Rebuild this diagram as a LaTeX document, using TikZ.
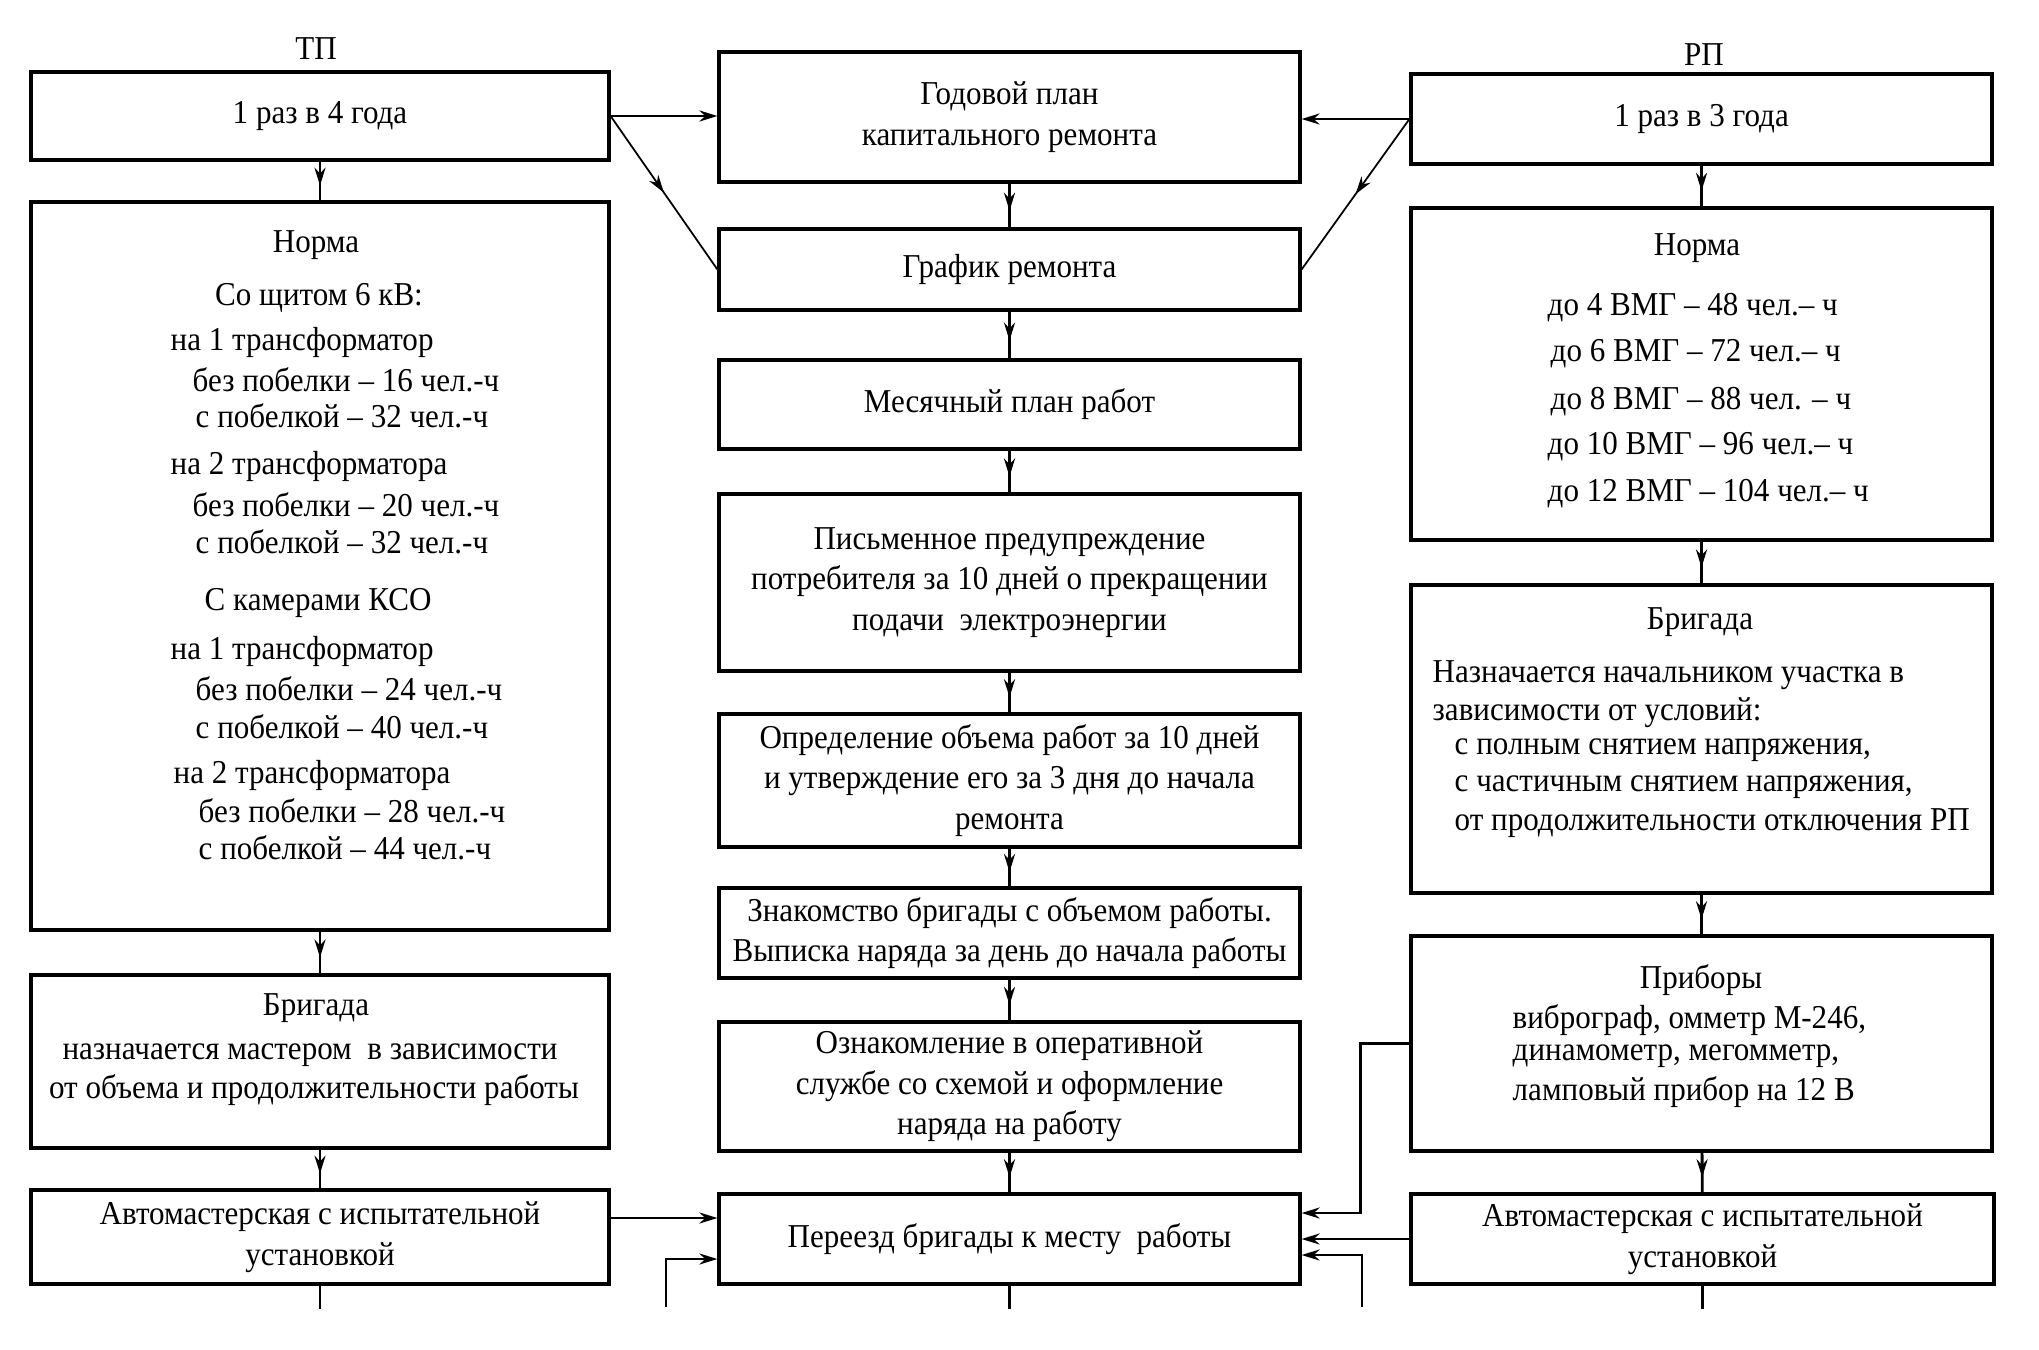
\documentclass[tikz,border=0pt]{standalone}
\usepackage{fontspec}
\setmainfont[FakeStretch=0.93]{Liberation Serif}
\usetikzlibrary{arrows.meta,decorations.markings,calc}
\newcommand\dgfont{\fontsize{9.5}{11.5}\selectfont}
\begin{document}
\begin{tikzpicture}[x=0.1mm,y=-0.1mm,
  box/.style={draw,line width=0.9pt,rectangle,inner sep=0pt,align=center,font=\dgfont},
  txt/.style={inner sep=0pt,font=\dgfont},
  txl/.style={inner sep=0pt,font=\dgfont,anchor=west},
  conn/.style={line width=0.8pt},
  thinconn/.style={line width=0.5pt},
  tip/.style={-{Stealth[length=1.8mm,width=1.1mm]}},
  midarr/.style={decoration={markings,mark=at position #1 with {\arrow{Stealth[length=1.8mm,width=1.1mm]}}},postaction={decorate}},
  midarr/.default=0.62]
\useasboundingbox[fill=white] (0,0) rectangle (2039,1349);

% titles
\node[txt] (tpl) at (316,49) {ТП};
\node[txt] (rpl) at (1704,55) {РП};

% left column
\node[box,minimum width=57.8mm,minimum height=8.8mm] (tpA) at (320,116) {1 раз в 4 года};
\node[box,minimum width=57.8mm,minimum height=72.8mm] (tpN) at (320,566) {};
\node[box,minimum width=57.8mm,minimum height=17.3mm] (tpB) at (320,1061.5) {};
\node[box,minimum width=57.8mm,minimum height=9.4mm] (tpM) at (320,1237) {Автомастерская с испытательной\\установкой};

\node[txt] (tn1) at (316,245) {Норма};
\node[txt] (tn2) at (319,298) {Со щитом 6 кВ:};
\node[txl] (tn3) at (170,342) {на 1 трансформатор};
\node[txl] (tn4) at (192,380) {без побелки – 16 чел.-ч};
\node[txl] (tn5) at (195,416) {с побелкой – 32 чел.-ч};
\node[txl] (tn6) at (170,466) {на 2 трансформатора};
\node[txl] (tn7) at (192,505) {без побелки – 20 чел.-ч};
\node[txl] (tn8) at (195,542) {с побелкой – 32 чел.-ч};
\node[txl] (tn9) at (204,603) {С камерами КСО};
\node[txl] (tn10) at (170,651) {на 1 трансформатор};
\node[txl] (tn11) at (195,689) {без побелки – 24 чел.-ч};
\node[txl] (tn12) at (195,727) {с побелкой – 40 чел.-ч};
\node[txl] (tn13) at (173,775) {на 2 трансформатора};
\node[txl] (tn14) at (198,811) {без побелки – 28 чел.-ч};
\node[txl] (tn15) at (198,848) {с побелкой – 44 чел.-ч};

\node[txt] (tb1) at (316,1008) {Бригада};
\node[txt] (tb2) at (310,1055) {назначается мастером\ \ в зависимости};
\node[txt] (tb3) at (314,1090) {от объема и продолжительности работы};

% centre column
\node[box,minimum width=58.1mm,minimum height=13mm] (god) at (1009.5,117) {Годовой план\\капитального ремонта};
\node[box,minimum width=58.1mm,minimum height=8.1mm] (graf) at (1009.5,269.5) {График ремонта};
\node[box,minimum width=58.1mm,minimum height=8.9mm] (mes) at (1009.5,404.5) {Месячный план работ};
\node[box,minimum width=58.1mm,minimum height=17.7mm] (pis) at (1009.5,582.5) {Письменное предупреждение\\потребителя за 10 дней\ о прекращении\\подачи\ \ электроэнергии};
\node[box,minimum width=58.1mm,minimum height=13.3mm] (opr) at (1009.5,780.5) {Определение объема работ за 10 дней\\и утверждение его за 3 дня до начала\\ремонта};
\node[box,minimum width=58.1mm,minimum height=9mm] (zna) at (1009.5,933) {Знакомство бригады с объемом работы.\\Выписка наряда за день до начала работы};
\node[box,minimum width=58.1mm,minimum height=12.9mm] (ozn) at (1009.5,1086.5) {Ознакомление в оперативной\\службе\ со схемой и оформление\\наряда на работу};
\node[box,minimum width=58.1mm,minimum height=9mm] (per) at (1009.5,1239) {Переезд бригады к месту\ \ работы};

% right column
\node[box,minimum width=58.1mm,minimum height=9mm] (rpA) at (1701.5,119) {1 раз в 3 года};
\node[box,minimum width=58.1mm,minimum height=33.2mm] (rpN) at (1701.5,374) {};
\node[box,minimum width=58.1mm,minimum height=30.8mm] (rpB) at (1701.5,739) {};
\node[box,minimum width=58.1mm,minimum height=21.5mm] (rpP) at (1701.5,1043.5) {};
\node[box,minimum width=58.3mm,minimum height=9mm] (rpM) at (1702.5,1239) {Автомастерская с испытательной\\установкой};

\node[txt] (rn1) at (1697,248) {Норма};
\node[txl] (rn2) at (1547,308) {до 4 ВМГ – 48 чел.– ч};
\node[txl] (rn3) at (1550,354) {до 6 ВМГ – 72 чел.– ч};
\node[txl] (rn4) at (1550,402) {до 8 ВМГ – 88 чел. – ч};
\node[txl] (rn5) at (1547,447) {до 10 ВМГ – 96 чел.– ч};
\node[txl] (rn6) at (1547,494) {до 12 ВМГ – 104 чел.– ч};

\node[txt] (rb1) at (1700,622) {Бригада};
\node[txl] (rb2) at (1432,675) {Назначается начальником участка в};
\node[txl] (rb3) at (1432,713) {зависимости от условий:};
\node[txl] (rb4) at (1454,750) {с полным снятием напряжения,};
\node[txl] (rb5) at (1454,787) {с частичным снятием напряжения,};
\node[txl] (rb6) at (1454,823) {от продолжительности отключения РП};

\node[txt] (rp1) at (1701,980) {Приборы};
\node[txl] (rp2) at (1512,1020) {виброграф, омметр М-246,};
\node[txl] (rp3) at (1512,1056) {динамометр, мегомметр,};
\node[txl] (rp4) at (1512,1092) {ламповый прибор на 12 В};

% free ends
\coordinate (llow) at (666,1307);
\coordinate (rlow) at (1362,1307);

% top connectors
\draw[conn,tip] (tpA.east) -- (tpA.east -| god.west);
\draw[thinconn,midarr=0.5] (tpA.east) -- (graf.west);
\draw[conn,tip] (rpA.west) -- (rpA.west -| god.east);
\draw[thinconn,midarr=0.5] (rpA.west) -- (graf.east);

% centre chain
\draw[conn,midarr] (god) -- (graf);
\draw[conn,midarr] (graf) -- (mes);
\draw[conn,midarr] (mes) -- (pis);
\draw[conn,midarr] (pis) -- (opr);
\draw[conn,midarr] (opr) -- (zna);
\draw[conn,midarr] (zna) -- (ozn);
\draw[conn,midarr] (ozn) -- (per);
\draw[conn] (per.south) -- ++(0,23);

% left chain
\draw[conn,midarr] (tpA) -- (tpN);
\draw[conn,midarr] (tpN) -- (tpB);
\draw[conn,midarr] (tpB) -- (tpM);
\draw[conn] (tpM.south) -- ++(0,23);

% right chain
\draw[conn,midarr] (rpA) -- (rpN);
\draw[conn,midarr] (rpN) -- (rpB);
\draw[conn,midarr] (rpB) -- (rpP);
\draw[conn,midarr] (rpP) -- (rpM);
\draw[conn] (rpM.south) -- ++(0,23);

% into Pereezd
\draw[conn,tip] ([yshift=1.9mm]tpM.east) -- ([yshift=1.9mm]tpM.east -| per.west);
\draw[conn,tip] (llow) |- ([yshift=-2mm]per.west);
\draw[conn,tip] (rpP.west) -- ++(-49,0) |- ([yshift=2.6mm]per.east);
\draw[conn,tip] (rpM.west) -- (rpM.west -| per.east);
\draw[conn,tip] (rlow) |- ([yshift=-1.6mm]per.east);
\end{tikzpicture}
\end{document}
